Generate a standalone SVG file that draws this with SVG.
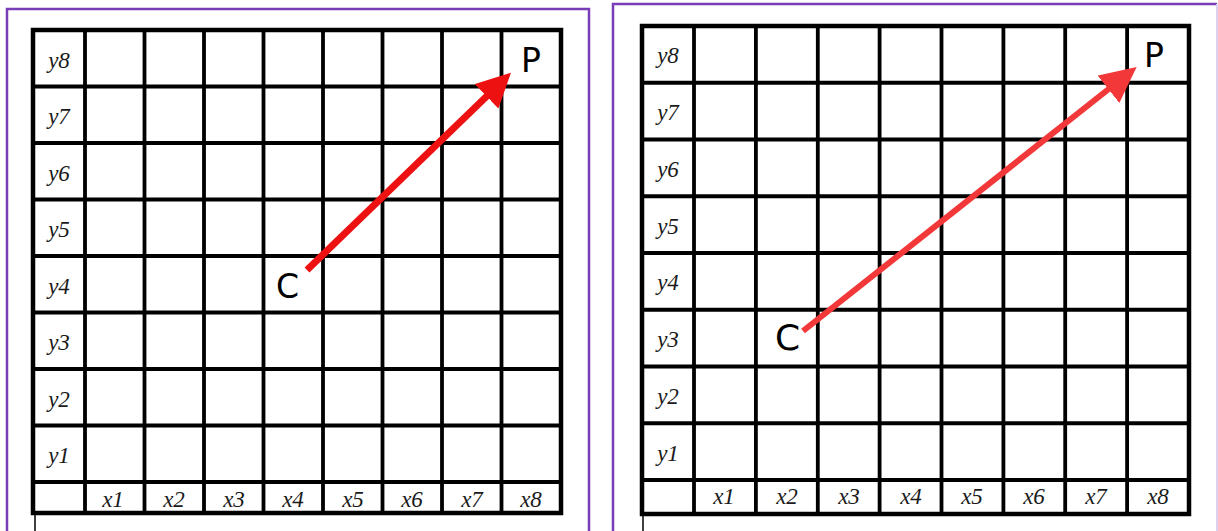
<svg xmlns="http://www.w3.org/2000/svg" width="1218" height="531" viewBox="0 0 1218 531">
<style>
.frame{fill:none;stroke:#7a3db8;stroke-width:2.5}
.grid{fill:none;stroke:#000;stroke-width:3.8}
.outer{fill:none;stroke:#000;stroke-width:4.5}
.tick{stroke:#000;stroke-width:1.5}
.ax{font-family:"Liberation Serif",serif;font-style:italic;font-size:23px;fill:#1a1a1a;text-anchor:middle}
.pt{font-family:"DejaVu Sans",sans-serif;font-size:33px;fill:#000}
.arrowL{stroke:#ee1111;stroke-width:7;fill:none}
.arrowR{stroke:#f23838;stroke-width:6;fill:none}
</style>
<defs>
<marker id="headL" markerUnits="userSpaceOnUse" markerWidth="36" markerHeight="36" refX="2" refY="17" orient="auto" viewBox="0 0 36 36">
<path d="M0,0 L34,17 L0,34 z" fill="#ee1111"/>
</marker>
<marker id="headR" markerUnits="userSpaceOnUse" markerWidth="38" markerHeight="38" refX="2" refY="17.5" orient="auto" viewBox="0 0 38 38">
<path d="M0,0 L36,17.5 L0,35 z" fill="#f23838"/>
</marker>
</defs>
<rect width="1218" height="531" fill="#fff"/>

<g id="panel-left">
<path class="frame" d="M7,540 V9 H589 V540"/>
<path class="grid" d="M85,30 V513 M144.5,30 V513 M204,30 V513 M263.5,30 V513 M323,30 V513 M382.5,30 V513 M442,30 V513 M501.5,30 V513 M33,86.5 H561 M33,143 H561 M33,199.5 H561 M33,256 H561 M33,312.5 H561 M33,369 H561 M33,425.5 H561 M33,482 H561"/>
<rect class="outer" x="33" y="30" width="528" height="483"/>
<line class="tick" x1="35" y1="515" x2="35" y2="531"/>
<g id="left-y-labels">
<text class="ax" x="59" y="68">y8</text>
<text class="ax" x="59" y="124">y7</text>
<text class="ax" x="59" y="181">y6</text>
<text class="ax" x="59" y="237">y5</text>
<text class="ax" x="59" y="294">y4</text>
<text class="ax" x="59" y="350">y3</text>
<text class="ax" x="59" y="407">y2</text>
<text class="ax" x="59" y="463">y1</text>
</g>
<g id="left-x-labels">
<text class="ax" x="113" y="507">x1</text>
<text class="ax" x="174" y="507">x2</text>
<text class="ax" x="234" y="507">x3</text>
<text class="ax" x="293" y="507">x4</text>
<text class="ax" x="353" y="507">x5</text>
<text class="ax" x="412" y="507">x6</text>
<text class="ax" x="472" y="507">x7</text>
<text class="ax" x="531" y="507">x8</text>
</g>
<g id="left-C"><text class="pt" x="276" y="298">C</text></g>
<g id="left-P"><text class="pt" x="521" y="72">P</text></g>
</g>

<g id="panel-right">
<path class="frame" d="M613,540 V4 H1217"/>
<line x1="1217" y1="4" x2="1217" y2="531" stroke="#ddd0ee" stroke-width="2"/>
<path class="grid" d="M694,26 V514 M755.9,26 V514 M817.8,26 V514 M879.6,26 V514 M941.5,26 V514 M1003.4,26 V514 M1065.2,26 V514 M1127.1,26 V514 M642,82.75 H1189 M642,139.5 H1189 M642,196.25 H1189 M642,253 H1189 M642,309.75 H1189 M642,366.5 H1189 M642,423.25 H1189 M642,480 H1189"/>
<rect class="outer" x="642" y="26" width="547" height="488"/>
<line class="tick" x1="643" y1="516" x2="643" y2="531"/>
<g id="right-y-labels">
<text class="ax" x="668" y="63">y8</text>
<text class="ax" x="668" y="120">y7</text>
<text class="ax" x="668" y="177">y6</text>
<text class="ax" x="668" y="234">y5</text>
<text class="ax" x="668" y="290">y4</text>
<text class="ax" x="668" y="347">y3</text>
<text class="ax" x="668" y="404">y2</text>
<text class="ax" x="668" y="461">y1</text>
</g>
<g id="right-x-labels">
<text class="ax" x="724" y="504">x1</text>
<text class="ax" x="787" y="504">x2</text>
<text class="ax" x="849" y="504">x3</text>
<text class="ax" x="911" y="504">x4</text>
<text class="ax" x="972" y="504">x5</text>
<text class="ax" x="1034" y="504">x6</text>
<text class="ax" x="1096" y="504">x7</text>
<text class="ax" x="1158" y="504">x8</text>
</g>
<g id="right-C"><text class="pt" x="775" y="350" style="font-size:36px">C</text></g>
<g id="right-P"><text class="pt" x="1144" y="67">P</text></g>
</g>

<g id="connectors">
<line class="arrowL" x1="307" y1="270" x2="488" y2="95" marker-end="url(#headL)"/>
<line class="arrowR" x1="803" y1="331" x2="1110" y2="88" marker-end="url(#headR)"/>
</g>
</svg>
